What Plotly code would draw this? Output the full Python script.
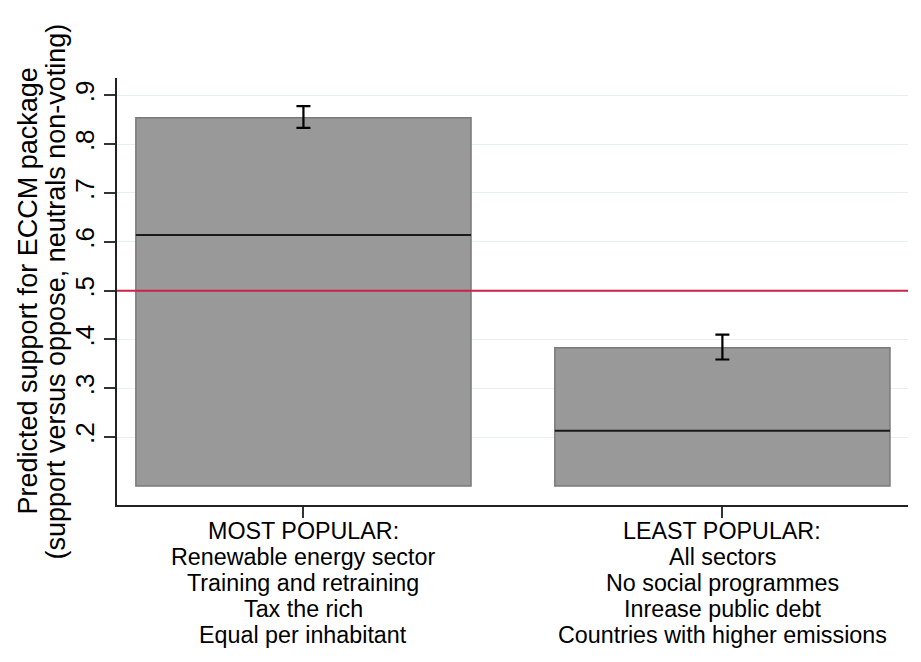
import plotly.graph_objects as go

# ---- data ----
categories = [1, 2]
group_labels = [
    ["MOST POPULAR:", "Renewable energy sector", "Training and retraining",
     "Tax the rich", "Equal per inhabitant"],
    ["LEAST POPULAR:", "All sectors", "No social programmes",
     "Inrease public debt", "Countries with higher emissions"],
]
bar_top = [0.854, 0.383]
bar_base = 0.1
median_line = [0.614, 0.213]
estimate = [0.856, 0.385]
ci_low = [0.8335, 0.359]
ci_high = [0.878, 0.410]
threshold = 0.5
ytick_vals = [0.2, 0.3, 0.4, 0.5, 0.6, 0.7, 0.8, 0.9]
ytick_text = [".2", ".3", ".4", ".5", ".6", ".7", ".8", ".9"]
ytitle_lines = ["Predicted support for ECCM package",
                "(support versus oppose, neutrals non-voting)"]

BAR_W = 0.8
X_RANGE = [0.555, 2.443]
Y_RANGE = [0.061, 0.9355]
FONT = "Liberation Sans, Arial, Helvetica, sans-serif"

fig = go.Figure()

# reference line at 0.5 (drawn first so bars cover it)
fig.add_trace(go.Scatter(
    x=X_RANGE, y=[threshold, threshold], mode="lines",
    line=dict(color="#cc2247", width=2),
    hoverinfo="skip", showlegend=False,
))

fig.add_trace(go.Bar(
    x=categories,
    y=[t - bar_base for t in bar_top],
    base=bar_base,
    width=BAR_W,
    marker=dict(color="#999999", line=dict(color="#7a7a7a", width=1.5)),
    hoverinfo="skip",
    showlegend=False,
))

for c, m in zip(categories, median_line):
    fig.add_trace(go.Scatter(
        x=[c - BAR_W / 2, c + BAR_W / 2], y=[m, m],
        mode="lines", line=dict(color="#1a1a1a", width=2),
        hoverinfo="skip", showlegend=False,
    ))

fig.add_trace(go.Scatter(
    x=categories, y=estimate, mode="markers",
    marker=dict(size=1, color="rgba(0,0,0,0)"),
    error_y=dict(type="data", symmetric=False,
                 array=[h - e for h, e in zip(ci_high, estimate)],
                 arrayminus=[e - l for e, l in zip(estimate, ci_low)],
                 color="#000000", thickness=2.2, width=7),
    hoverinfo="skip", showlegend=False,
))

annotations = []
for c, lines in zip(categories, group_labels):
    for k, txt in enumerate(lines):
        annotations.append(dict(
            x=c, xref="x", y=0, yref="paper", yanchor="middle",
            yshift=-(26 + 26 * k), text=txt, showarrow=False,
            font=dict(family=FONT, size=23.3, color="#000000"),
        ))
for k, txt in enumerate(ytitle_lines):
    annotations.append(dict(
        x=0, xref="paper", xshift=-(90 - 28 * k), xanchor="center",
        y=0.5, yref="paper", yanchor="middle",
        text=txt, textangle=-90, showarrow=False,
        font=dict(family=FONT, size=27, color="#000000"),
    ))

fig.update_layout(
    width=913, height=654,
    margin=dict(l=109, r=13, t=70, b=157),
    paper_bgcolor="white", plot_bgcolor="white",
    annotations=annotations,
    font=dict(family=FONT, color="#000000"),
)
fig.update_xaxes(
    range=X_RANGE, tickvals=categories, showticklabels=False,
    ticks="outside", ticklen=11, tickcolor="#333333", tickwidth=1.5,
    showline=True, linecolor="#222222", linewidth=1.5,
    showgrid=False, zeroline=False,
)
fig.update_yaxes(
    range=Y_RANGE, tickvals=ytick_vals, ticktext=ytick_text,
    tickangle=-90, tickfont=dict(family=FONT, size=26, color="#000000"),
    ticks="outside", ticklen=11, tickcolor="#333333", tickwidth=1.5,
    showline=True, linecolor="#222222", linewidth=1.5,
    showgrid=True, gridcolor="#e6eff1", gridwidth=1, zeroline=False,
)

fig.write_html("out.html")
